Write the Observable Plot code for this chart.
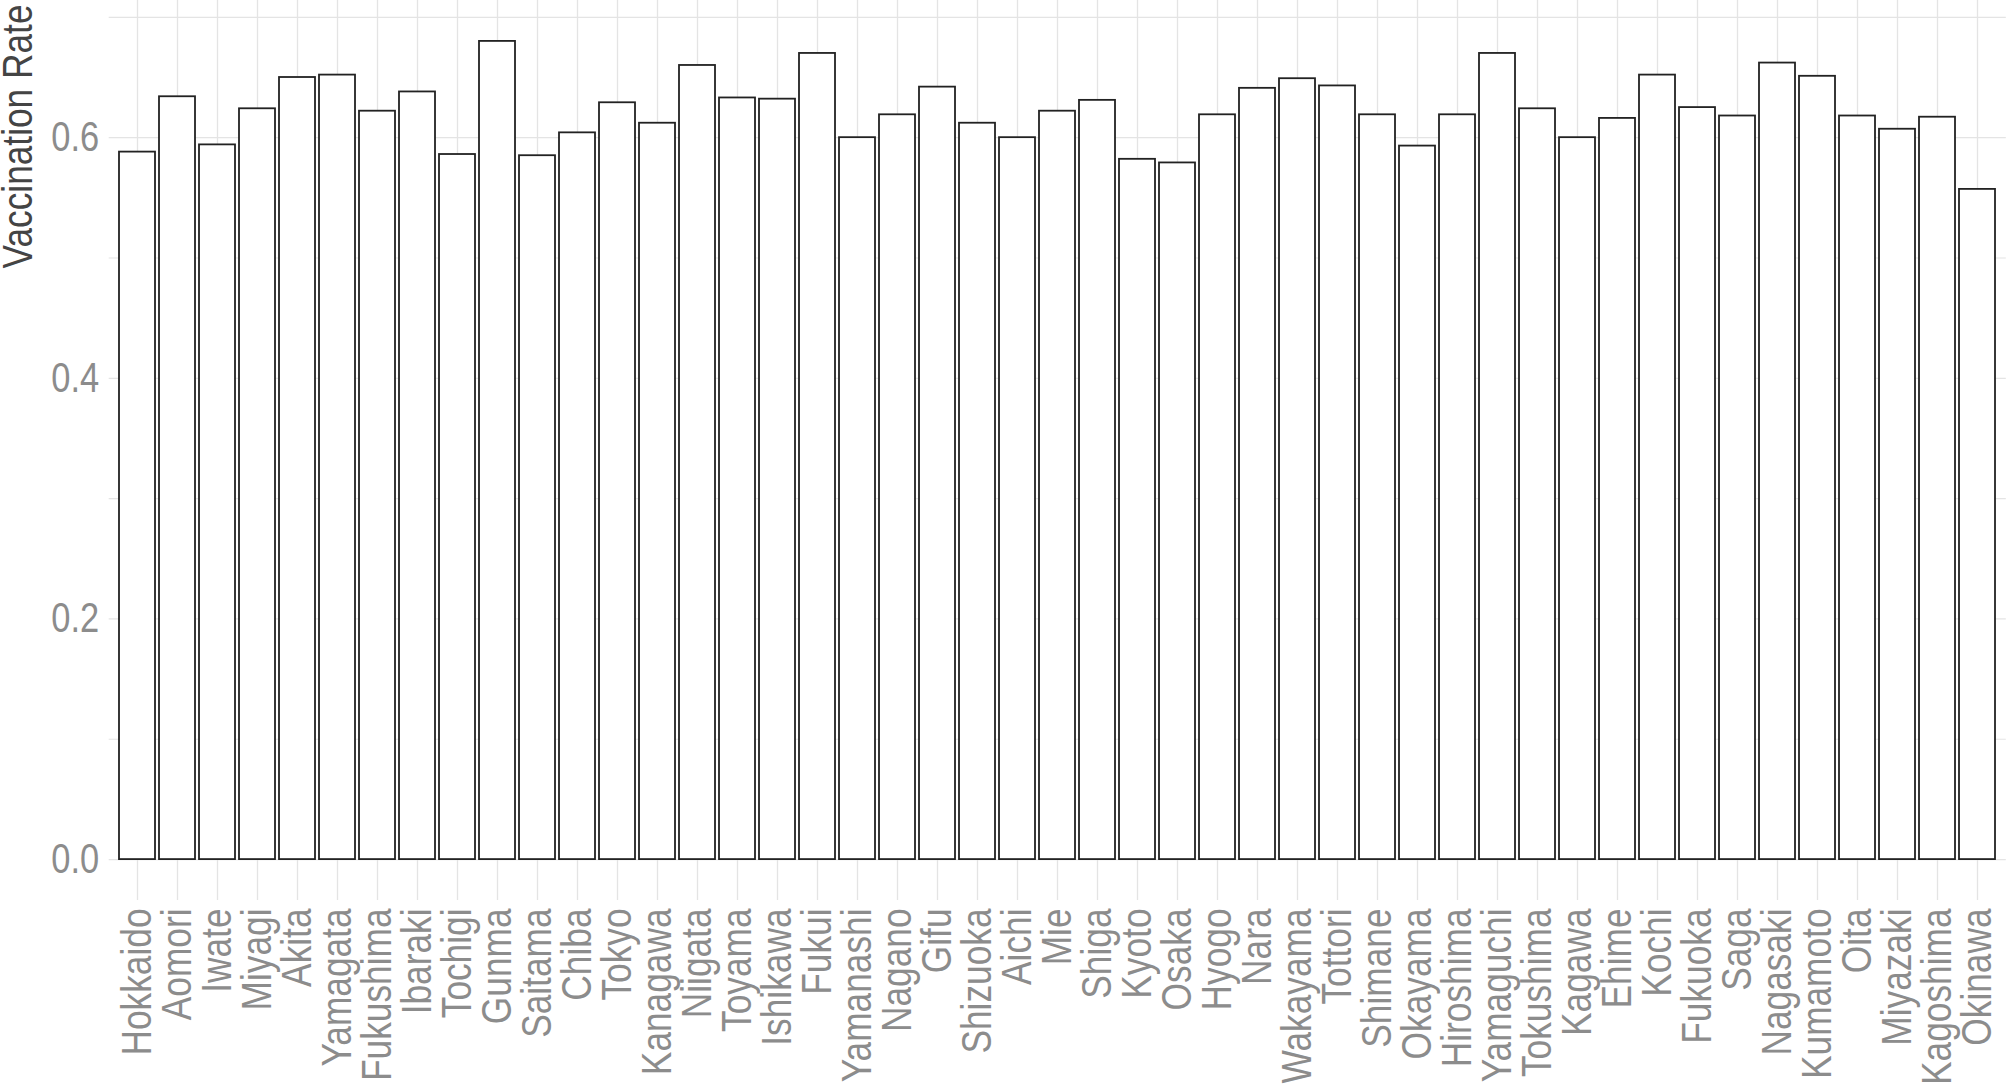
<!DOCTYPE html>
<html>
<head>
<meta charset="utf-8">
<script src="https://cdn.jsdelivr.net/npm/d3@7"></script>
<script src="https://cdn.jsdelivr.net/npm/@observablehq/plot@0.6"></script>
<style>
  html, body { margin: 0; padding: 0; background: #ffffff; overflow: hidden; }
  #chart svg { display: block; }
</style>
</head>
<body>
<div id="chart"></div>
<script>
const prefectures = [
  "Hokkaido", "Aomori", "Iwate", "Miyagi", "Akita", "Yamagata", "Fukushima", "Ibaraki",
  "Tochigi", "Gunma", "Saitama", "Chiba", "Tokyo", "Kanagawa", "Niigata", "Toyama",
  "Ishikawa", "Fukui", "Yamanashi", "Nagano", "Gifu", "Shizuoka", "Aichi", "Mie",
  "Shiga", "Kyoto", "Osaka", "Hyogo", "Nara", "Wakayama", "Tottori", "Shimane",
  "Okayama", "Hiroshima", "Yamaguchi", "Tokushima", "Kagawa", "Ehime", "Kochi", "Fukuoka",
  "Saga", "Nagasaki", "Kumamoto", "Oita", "Miyazaki", "Kagoshima", "Okinawa"
];
const rates = [
  0.588, 0.634, 0.594, 0.624, 0.650, 0.652, 0.622, 0.638,
  0.586, 0.680, 0.585, 0.604, 0.629, 0.612, 0.660, 0.633,
  0.632, 0.670, 0.600, 0.619, 0.642, 0.612, 0.600, 0.622,
  0.631, 0.582, 0.579, 0.619, 0.641, 0.649, 0.643, 0.619,
  0.593, 0.619, 0.670, 0.624, 0.600, 0.616, 0.652, 0.625,
  0.618, 0.662, 0.651, 0.618, 0.607, 0.617, 0.557
];
const majorTicks = [0, 0.2, 0.4, 0.6];
const minorTicks = [0.1, 0.3, 0.5, 0.7];
const yTitle = "Vaccination Rate";

const data = prefectures.map((p, i) => ({prefecture: p, rate: rates[i]}));
const maxRate = d3.max(rates);
const yDomain = [-0.05 * maxRate, 1.05 * maxRate];

const FONT = '"Liberation Sans", Arial, sans-serif';
const NARROW = 0.82; // emulate a narrow sans face
const gridColor = "#e4e4e4";
const tickColor = "#8c8c8c";

const chart = Plot.plot({
  width: 2008,
  height: 1087,
  marginLeft: 108.7,
  marginRight: 2.2,
  marginTop: 0,
  marginBottom: 187,
  style: {fontFamily: FONT, background: "#ffffff"},
  x: {domain: prefectures, paddingInner: 0.1, paddingOuter: 0.15, align: 0.5},
  y: {domain: yDomain},
  marks: [
    Plot.gridY(minorTicks, {stroke: gridColor, strokeOpacity: 1, strokeWidth: 1.1}),
    Plot.gridY(majorTicks, {stroke: gridColor, strokeOpacity: 1, strokeWidth: 1.3}),
    Plot.gridX({stroke: gridColor, strokeOpacity: 1, strokeWidth: 1.3}),
    Plot.barY(data, {x: "prefecture", y: "rate", fill: "#ffffff", stroke: "#222222", strokeWidth: 1.8}),
    Plot.axisY(majorTicks, {tickSize: 0, tickPadding: 10, tickFormat: d3.format(".1f"), fontSize: 42, fill: tickColor, label: null}),
    Plot.axisX({tickRotate: -90, tickSize: 0, tickPadding: 8, fontSize: 43, fill: tickColor, label: null}),
    Plot.text([yTitle], {frameAnchor: "top-left", dx: -108, dy: 4, rotate: -90, textAnchor: "end", fontSize: 43, fill: "#444444"})
  ]
});
document.getElementById("chart").appendChild(chart);

// Condense text along its baseline to emulate a narrow face.
chart.querySelectorAll("text").forEach(t => {
  const len = t.getComputedTextLength();
  if (len > 0) {
    t.setAttribute("textLength", (len * NARROW).toFixed(2));
    t.setAttribute("lengthAdjust", "spacingAndGlyphs");
  }
});
</script>
</body>
</html>
